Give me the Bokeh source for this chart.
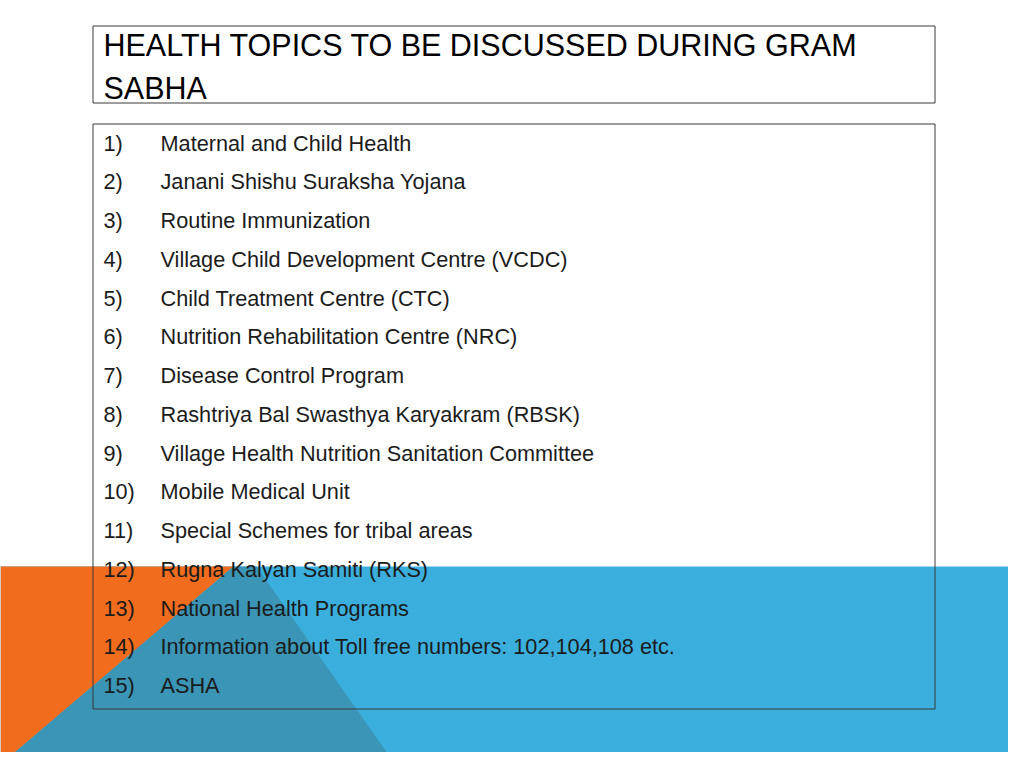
from bokeh.plotting import figure
from bokeh.embed import file_html
from bokeh.resources import INLINE
from bokeh.core.properties import value
from bokeh.models import ColumnDataSource, Range1d

# ---- content ----
title_lines = ["HEALTH TOPICS TO BE DISCUSSED DURING GRAM", "SABHA"]
numbers = [f"{i})" for i in range(1, 16)]
topics = [
    "Maternal and Child Health",
    "Janani Shishu Suraksha Yojana",
    "Routine Immunization",
    "Village Child Development Centre (VCDC)",
    "Child Treatment Centre (CTC)",
    "Nutrition Rehabilitation Centre (NRC)",
    "Disease Control Program",
    "Rashtriya Bal Swasthya Karyakram (RBSK)",
    "Village Health Nutrition Sanitation Committee",
    "Mobile Medical Unit",
    "Special Schemes for tribal areas",
    "Rugna Kalyan Samiti (RKS)",
    "National Health Programs",
    "Information about Toll free numbers: 102,104,108 etc.",
    "ASHA",
]

# ---- styles / layout ----
ORANGE = "#F26C1E"
LIGHT_BLUE = "#3AAFDD"
TEAL = "#3A95B6"
BORDER = "#3a3a3a"
TEXT = "#1b1b1b"
FONT = "Liberation Sans"

W, H = 1008, 752
p = figure(width=W, height=H, output_backend="svg", toolbar_location=None,
           x_range=Range1d(0, W), y_range=Range1d(H, 0),
           x_axis_type=None, y_axis_type=None, min_border=0)
p.grid.visible = False
p.outline_line_color = None
p.background_fill_color = "white"
p.border_fill_color = "white"

# bottom decorative band
band_top, band_bot = 566, 780
p.quad(left=[0], right=[1030], top=[band_top], bottom=[band_bot],
       fill_color=LIGHT_BLUE, line_color=None)
p.patch(x=[0, 233, 0], y=[band_top, band_top, 764], fill_color=ORANGE, line_color=None)
p.patch(x=[233, 256, 406, 0, 0], y=[band_top, band_top, 780, 780, 764],
        fill_color=TEAL, line_color=None)

# title box
p.quad(left=[92.5], right=[934.5], top=[25.5], bottom=[102.5],
       fill_color=None, line_color=BORDER, line_width=1)
title_y = [44, 87]
p.text(x=[103, 103], y=title_y, text=title_lines, text_font=value(FONT),
       text_font_size="30.5px", text_color="black", text_baseline="alphabetic",
       text_align="left")

# list box
p.quad(left=[92.5], right=[934.5], top=[123.5], bottom=[708.5],
       fill_color=None, line_color=BORDER, line_width=1)

first_base, step = 142.5, 38.75
ys = [first_base + i * step for i in range(len(topics))]
src = ColumnDataSource(dict(y=ys, num=numbers, topic=topics,
                            xn=[103] * len(topics), xt=[160] * len(topics)))
p.text(x="xn", y="y", text="num", source=src, text_font=value(FONT),
       text_font_size="21.7px", text_color=TEXT, text_baseline="alphabetic")
p.text(x="xt", y="y", text="topic", source=src, text_font=value(FONT),
       text_font_size="21.7px", text_color=TEXT, text_baseline="alphabetic")

open("out.html", "w").write(file_html(p, INLINE))
